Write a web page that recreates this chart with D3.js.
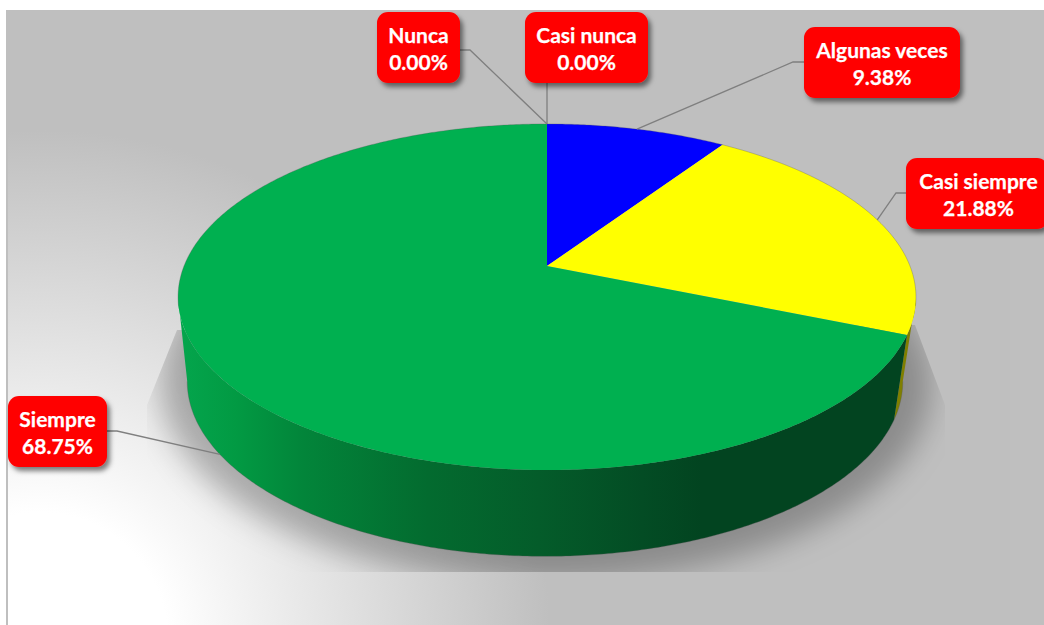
<!DOCTYPE html>
<html>
<head>
<meta charset="utf-8">
<script src="https://cdn.jsdelivr.net/npm/d3@7/dist/d3.min.js"></script>
<style>
  html, body { margin: 0; padding: 0; background: #fff; overflow: hidden; }
  svg { display: block; }
  text { font-family: Lato, "Open Sans", sans-serif; font-weight: 700; font-size: 21px; fill: #fff; stroke: #fff; stroke-width: 0.25; text-anchor: middle; }
</style>
</head>
<body>
<svg id="chart" width="1044" height="625"></svg>
<script>
// Survey answers and their shares, in drawing order clockwise from twelve o'clock
const categories = ["Nunca", "Casi nunca", "Algunas veces", "Casi siempre", "Siempre"];
const shares = [0, 0, 9.38, 21.88, 68.75];
const topColors = ["#c00000", "#ff9900", "#0000ff", "#ffff00", "#00b050"];
const sideColors = ["#600000", "#7f4c00", "#00007f", "#7f7f00", "url(#wall)"];

// Callout boxes, elbows of the leader lines, and where each leader meets the pie
const callouts = [
  { box: [377, 12, 83, 71], start: [460, 50], elbow: [470, 50], rim: "top" },
  { box: [525, 12, 123, 71], start: [547, 83], elbow: [547, 83], rim: "top" },
  { box: [804, 27, 156, 71], start: [804, 62], elbow: [793, 62], rim: "top" },
  { box: [906, 158, 142, 71], start: [906, 193], elbow: [896, 193], rim: "top" },
  { box: [8, 396, 99, 71], start: [107, 431], elbow: [117, 431], rim: "bottom" }
];

const svg = d3.select("#chart");
const defs = svg.append("defs");

// Perspective disc: two planes of the same cylinder seen from above
const tilt = 0.179;
const planes = {
  top:    { cx: 547, cy: 266, a: 363, b: 167.5 },
  bottom: { cx: 545, cy: 350, a: 352, b: 169.4 }
};
// The wall is only visible between the two silhouette angles
const wallStart = Math.acos(-tilt);
const wallEnd = 2 * Math.PI - wallStart;

function project(angle, plane) {
  const u = Math.sin(angle), v = -Math.cos(angle), w = 1 - tilt * v;
  const p = planes[plane];
  return [p.cx + p.a * u / w, p.cy + p.b * v / w];
}
function arcPoints(a0, a1, plane) {
  const n = Math.max(2, Math.ceil((a1 - a0) / 0.01));
  return d3.range(n + 1).map(i => project(a0 + (a1 - a0) * i / n, plane));
}

const line = d3.line();
const slices = d3.pie().sort(null).value(d => d)(shares);

// Backdrop
const bg = defs.append("radialGradient").attr("id", "backdrop")
  .attr("gradientUnits", "userSpaceOnUse")
  .attr("cx", 40).attr("cy", 640).attr("r", 510);
bg.append("stop").attr("offset", 0.25).attr("stop-color", "#ffffff");
bg.append("stop").attr("offset", 1).attr("stop-color", "#bfbfbf");
svg.append("rect").attr("x", 8).attr("y", 10).attr("width", 1036).attr("height", 615).attr("fill", "url(#backdrop)");
svg.append("rect").attr("x", 6).attr("y", 10).attr("width", 2).attr("height", 615).attr("fill", "#bfbfbf");

// Wall shading runs left to right across the cylinder
const wall = defs.append("linearGradient").attr("id", "wall")
  .attr("gradientUnits", "userSpaceOnUse")
  .attr("x1", 177).attr("x2", 916).attr("y1", 0).attr("y2", 0);
[[0, "#04a64d"], [0.08, "#029a43"], [0.17, "#02853a"], [0.34, "#036b2f"],
 [0.49, "#045c2a"], [0.63, "#034c24"], [0.71, "#024420"], [1, "#024420"]]
  .forEach(([o, c]) => wall.append("stop").attr("offset", o).attr("stop-color", c));

// Ground shadow, blurred and clipped to its projected quad
const blur = defs.append("filter").attr("id", "soft")
  .attr("x", "-10%").attr("y", "-20%").attr("width", "120%").attr("height", "140%");
blur.append("feGaussianBlur").attr("stdDeviation", 15);
defs.append("clipPath").attr("id", "groundClip").append("polygon")
  .attr("points", "177,330 147,405 147,572 945,572 945,405 915,325");
svg.append("g").attr("clip-path", "url(#groundClip)")
  .append("ellipse")
  .attr("cx", 546).attr("cy", 385).attr("rx", 385).attr("ry", 197)
  .attr("fill", "#000").attr("fill-opacity", 0.27).attr("filter", "url(#soft)");

// Cylinder wall, one band per slice, trimmed to the visible range
svg.append("g").selectAll("path")
  .data(slices.filter(d => d.value > 0 && d.endAngle > wallStart && d.startAngle < wallEnd))
  .join("path")
  .attr("d", d => {
    const a0 = Math.max(d.startAngle, wallStart), a1 = Math.min(d.endAngle, wallEnd);
    return line(arcPoints(a0, a1, "top").concat(arcPoints(a0, a1, "bottom").reverse())) + "Z";
  })
  .attr("fill", d => sideColors[d.index]);

// Outer edge of the wall
svg.append("path")
  .attr("d", line(arcPoints(wallStart, wallEnd, "bottom")))
  .attr("fill", "none").attr("stroke", "#555").attr("stroke-opacity", 0.4).attr("stroke-width", 0.8);

// Top face
svg.append("g").selectAll("path")
  .data(slices.filter(d => d.value > 0))
  .join("path")
  .attr("d", d => line([[planes.top.cx, planes.top.cy]].concat(arcPoints(d.startAngle, d.endAngle, "top"))) + "Z")
  .attr("fill", d => topColors[d.index]);

// Soft dark rim along the far edge of the top face
svg.append("path")
  .attr("d", line(arcPoints(wallEnd - 0.05, 2 * Math.PI + wallStart + 0.05, "top")))
  .attr("fill", "none").attr("stroke", "#555").attr("stroke-opacity", 0.3).attr("stroke-width", 1);

// Leader lines start at each slice's middle angle
svg.append("g").selectAll("path")
  .data(slices)
  .join("path")
  .attr("d", d => {
    const c = callouts[d.index];
    const mid = (d.startAngle + d.endAngle) / 2;
    return line([c.start, c.elbow, project(mid, c.rim)]);
  })
  .attr("fill", "none").attr("stroke", "#7f7f7f").attr("stroke-width", 1.3);

// Callouts
const drop = defs.append("filter").attr("id", "boxShadow")
  .attr("x", "-20%").attr("y", "-20%").attr("width", "140%").attr("height", "150%");
drop.append("feDropShadow").attr("dx", 3).attr("dy", 4).attr("stdDeviation", 2.5)
  .attr("flood-color", "#000").attr("flood-opacity", 0.5);

const label = svg.append("g").selectAll("g")
  .data(categories)
  .join("g");
label.append("rect")
  .attr("x", (d, i) => callouts[i].box[0])
  .attr("y", (d, i) => callouts[i].box[1])
  .attr("width", (d, i) => callouts[i].box[2])
  .attr("height", (d, i) => callouts[i].box[3])
  .attr("rx", 11).attr("fill", "#ff0000").attr("filter", "url(#boxShadow)");
const centerX = i => i === 3 ? 978.5 : callouts[i].box[0] + callouts[i].box[2] / 2;
label.append("text")
  .attr("x", (d, i) => centerX(i))
  .attr("y", (d, i) => callouts[i].box[1] + 31)
  .text(d => d);
label.append("text")
  .attr("x", (d, i) => centerX(i))
  .attr("y", (d, i) => callouts[i].box[1] + 58)
  .text((d, i) => shares[i].toFixed(2) + "%");
</script>
</body>
</html>
